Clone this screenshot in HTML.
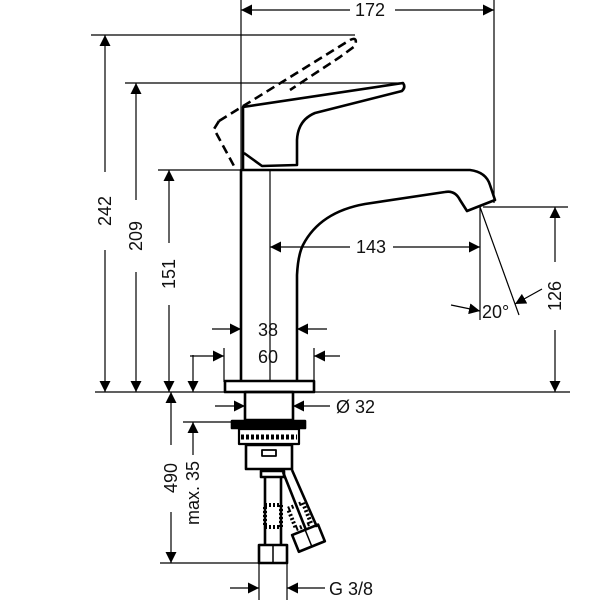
<!DOCTYPE html>
<html><head><style>body{margin:0;background:#fff}svg{display:block}text{font-family:"Liberation Sans",sans-serif;font-size:18px;fill:#111}</style></head>
<body>
<svg width="600" height="600" viewBox="0 0 600 600" xmlns="http://www.w3.org/2000/svg">
<defs>
<marker id="a" viewBox="0 0 10 10" refX="10" refY="5" markerWidth="11" markerHeight="11" markerUnits="userSpaceOnUse" orient="auto"><path d="M0,0L10,5L0,10z" fill="#000"/></marker>
</defs>
<g stroke="#000" stroke-width="1.2" fill="none">
<line x1="241" y1="0" x2="241" y2="170"/>
<line x1="494" y1="0" x2="494" y2="203"/>
<line x1="91" y1="35" x2="355" y2="35"/>
<line x1="125" y1="83" x2="400" y2="83"/>
<line x1="158" y1="170" x2="241" y2="170"/>
<line x1="95" y1="392" x2="570" y2="392"/>
<line x1="483" y1="207" x2="568" y2="207"/>
<line x1="160" y1="563" x2="262" y2="563"/>
<line x1="183" y1="422" x2="240" y2="422"/>
<line x1="270" y1="170" x2="270" y2="382"/>
<line x1="480" y1="207" x2="480" y2="320"/>
<line x1="480" y1="207" x2="519" y2="315"/>
<line x1="224" y1="348" x2="224" y2="382"/>
<line x1="314" y1="348" x2="314" y2="382"/>
<line x1="259" y1="563" x2="259" y2="600"/>
<line x1="287" y1="563" x2="287" y2="600"/>
<line x1="350" y1="10" x2="241" y2="10" marker-end="url(#a)"/>
<line x1="395" y1="10" x2="494" y2="10" marker-end="url(#a)"/>
<line x1="105" y1="172" x2="105" y2="35" marker-end="url(#a)"/>
<line x1="105" y1="250" x2="105" y2="392" marker-end="url(#a)"/>
<line x1="136" y1="200" x2="136" y2="83" marker-end="url(#a)"/>
<line x1="136" y1="272" x2="136" y2="392" marker-end="url(#a)"/>
<line x1="169" y1="243" x2="169" y2="170" marker-end="url(#a)"/>
<line x1="169" y1="305" x2="169" y2="392" marker-end="url(#a)"/>
<line x1="193" y1="355" x2="193" y2="392" marker-end="url(#a)"/>
<line x1="193" y1="455" x2="193" y2="422" marker-end="url(#a)"/>
<line x1="171" y1="445" x2="171" y2="392" marker-end="url(#a)"/>
<line x1="171" y1="512" x2="171" y2="563" marker-end="url(#a)"/>
<line x1="555" y1="262" x2="555" y2="207" marker-end="url(#a)"/>
<line x1="555" y1="330" x2="555" y2="392" marker-end="url(#a)"/>
<line x1="350" y1="247" x2="270" y2="247" marker-end="url(#a)"/>
<line x1="393" y1="247" x2="480" y2="247" marker-end="url(#a)"/>
<line x1="212" y1="329" x2="241" y2="329" marker-end="url(#a)"/>
<line x1="327" y1="329" x2="297" y2="329" marker-end="url(#a)"/>
<line x1="190" y1="356" x2="224" y2="356" marker-end="url(#a)"/>
<line x1="340" y1="356" x2="314" y2="356" marker-end="url(#a)"/>
<line x1="215" y1="406" x2="245" y2="406" marker-end="url(#a)"/>
<line x1="330" y1="406" x2="293" y2="406" marker-end="url(#a)"/>
<line x1="230" y1="588" x2="259" y2="588" marker-end="url(#a)"/>
<line x1="325" y1="588" x2="287" y2="588" marker-end="url(#a)"/>
<line x1="451" y1="305" x2="480" y2="311" marker-end="url(#a)"/>
<line x1="542" y1="289" x2="515" y2="304" marker-end="url(#a)"/>
</g>
<g stroke="#000" stroke-width="2.6" fill="none" stroke-linejoin="round">
<path d="M241,382 L241,170 L470,170 Q486,172 490,185 L495,200 L467,211 L460,200 Q455,190 445,192 L365,204 Q320,212 303,245 Q298,255 297,275 L297,382"/>
<rect x="225" y="381" width="89" height="11"/>
<path d="M243,170 L243,107 L403,83 Q406,87 402,91 L315,113 Q298,120 297,140 L297,165 L262,166 L244,153" />
<path d="M219,121 L253,100 L350,40 Q358,36 355,46 L340,57 L290,90" stroke-dasharray="9,5"/>
<path d="M219,121 L214,129 L234,166" stroke-dasharray="9,5"/>
<rect x="245" y="392" width="48" height="28"/>
<rect x="232" y="421" width="73" height="7" fill="#000"/>
<rect x="239" y="429" width="60" height="15" stroke-width="2.2"/>
<line x1="241" y1="437" x2="297" y2="437" stroke-dasharray="3,2" stroke-width="5"/>
<rect x="246" y="445" width="46" height="24"/>
<rect x="262" y="450" width="14" height="6" stroke-width="1.8"/>
<rect x="261" y="471" width="23" height="6"/>
<path d="M265,477 L265,545 M281,477 L281,545"/>
<rect x="259" y="545" width="28" height="18"/>
<line x1="273" y1="545" x2="273" y2="563" stroke-width="1.5"/>
<path d="M283,472 L306,530 M292,470 L317,527"/>
<rect x="265" y="505" width="16" height="22" stroke-width="4" stroke-dasharray="2,2"/>
<g transform="translate(301,525) rotate(-22)"><rect x="-6" y="-20" width="16" height="22" stroke-width="4" stroke-dasharray="2,2"/><rect x="-12" y="6" width="28" height="18"/><line x1="2" y1="6" x2="2" y2="24" stroke-width="1.5"/></g>
</g>
<text x="370" y="16" text-anchor="middle">172</text>
<text x="371" y="253" text-anchor="middle">143</text>
<text x="268" y="336" text-anchor="middle">38</text>
<text x="268" y="363" text-anchor="middle">60</text>
<text x="336" y="413">Ø 32</text>
<text x="329" y="595">G 3/8</text>
<text x="482" y="318">20°</text>
<text transform="translate(111,211) rotate(-90)" text-anchor="middle">242</text>
<text transform="translate(142,236) rotate(-90)" text-anchor="middle">209</text>
<text transform="translate(175,274) rotate(-90)" text-anchor="middle">151</text>
<text transform="translate(561,296) rotate(-90)" text-anchor="middle">126</text>
<text transform="translate(177,478) rotate(-90)" text-anchor="middle">490</text>
<text transform="translate(199,493) rotate(-90)" text-anchor="middle">max. 35</text>
</svg>
</body></html>
